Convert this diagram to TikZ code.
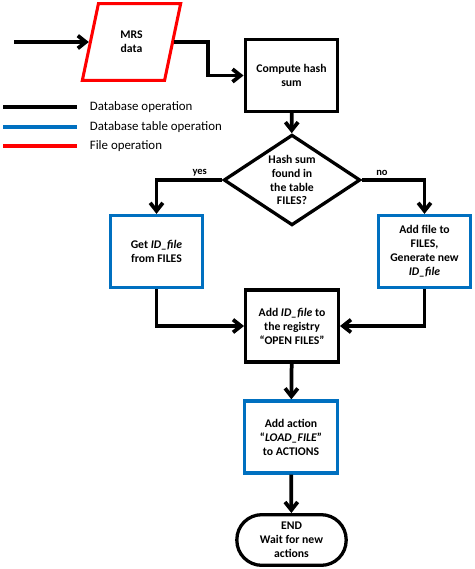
\documentclass[tikz,border=0pt]{standalone}
\usepackage{fontspec}
\setmainfont{Carlito}
\usetikzlibrary{shapes.geometric,arrows.meta}
\definecolor{tabblue}{RGB}{0,112,192}
\definecolor{filered}{RGB}{255,0,0}
\tikzset{bx/.style = {rectangle, line width=2.8pt, draw, minimum width=2.78cm, minimum height=2.16cm, inner sep=1pt, align=center, font=\fontsize{10}{11.9}\selectfont\bfseries},
         bl/.style = {bx, draw=tabblue},
         pg/.style = {trapezium, trapezium left angle=76, trapezium right angle=104, trapezium stretches=true,
                      line width=2.6pt, draw=filered, minimum width=2.95cm, minimum height=2.3cm, inner sep=0pt, align=center, font=\fontsize{10}{11.9}\selectfont\bfseries},
         dm/.style = {diamond, aspect=1.5, line width=2.8pt, draw, minimum width=4.1cm, minimum height=2.72cm, inner sep=0pt, align=center, font=\fontsize{10}{11.9}\selectfont\bfseries},
         te/.style = {rectangle, rounded corners=0.75cm, line width=2.8pt, draw, minimum width=3.28cm, minimum height=1.52cm, inner sep=0pt, align=center, font=\fontsize{10}{11.9}\selectfont\bfseries},
         lg/.style = {anchor=west, inner sep=0pt, font=\fontsize{11}{12}\selectfont},
         yn/.style = {above, inner sep=2pt, font=\fontsize{9}{10}\selectfont\bfseries}}

\begin{document}
\begin{tikzpicture}[x=0.03cm, y=-0.03cm, >={Straight Barb[length=2.4mm, width=3.8mm]}, line width=3.2pt]
    \useasboundingbox (0,0) rectangle (474,569);
    \node[pg] (mrs) at (131.5,42) {MRS\\data};
    \node[bx] (hash) at (291.5,75.5) {Compute hash\\sum};
    \node[dm] (dec) at (292,180) {Hash sum\\found in\\the table\\FILES?};
    \node[bl] (get) at (156.5,251.5) {Get \textit{ID\_file}\\from FILES};
    \node[bl] (add) at (424.5,251.5) {Add file to\\FILES,\\Generate new\\\textit{ID\_file}};
    \node[bx] (reg) at (292,326) {Add \textit{ID\_file} to\\the registry\\``OPEN FILES''};
    \node[bl] (act) at (291,437) {Add action\\``\textit{LOAD\_FILE}''\\to ACTIONS};
    \node[te] (end) at (291.5,540) {END\\Wait for new\\actions};
    \coordinate (src) at (14,42);
    \coordinate (jog) at (208,60);
    % legend
    \node[lg] (l1) at (88,107) {Database operation};
    \node[lg] (l2) at (88,127) {Database table operation};
    \node[lg] (l3) at (88,146) {File operation};
    \draw (3,107) -- (77,107);
    \draw[tabblue] (3,127) -- (77,127);
    \draw[filered] (3,146) -- (77,146);
    % flow
    \draw[->] (src) -- (src -| mrs.west);
    \draw[->] (mrs.east) -| (jog) |- (hash.west);
    \draw[->] (hash) -- (dec);
    \draw[->] (dec.west) -| node[yn, pos=0.17] {yes} (get.north);
    \draw[->] (dec.east) -| node[yn, pos=0.16] {no} (add.north);
    \draw[->] (get.south) |- (reg.west);
    \draw[->] (add.south) |- (reg.east);
    \draw[->] (reg) -- (act);
    \draw[->] (act) -- (end);
\end{tikzpicture}
\end{document}
